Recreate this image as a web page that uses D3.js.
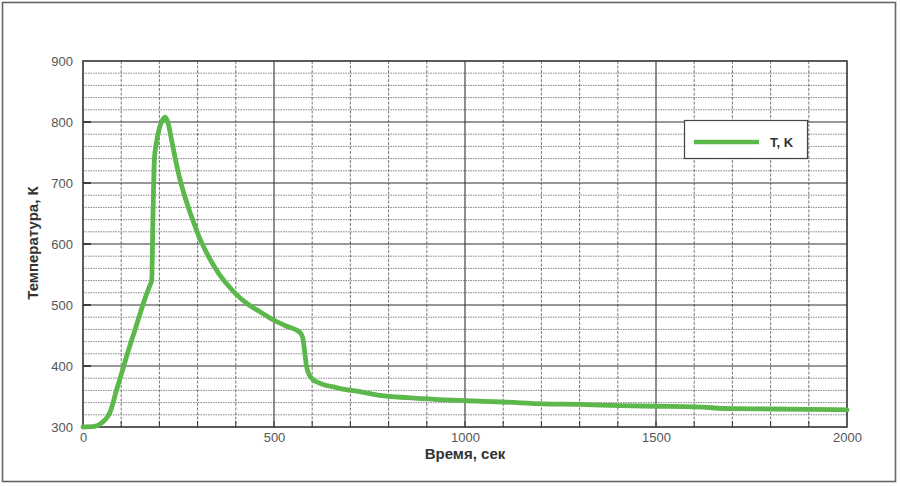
<!DOCTYPE html>
<html><head><meta charset="utf-8">
<script src="https://cdn.jsdelivr.net/npm/d3@7"></script>
<style>body{margin:0;background:#fff}svg{display:block}</style>
</head><body>
<svg id="c" width="900" height="486"></svg>
<script>
const times = [0,30,45,58,70,88,101,120,136,150,162,175,180,183,187,192,200,208,215,222,232,245,255,267,280,293,305,320,337,355,380,402,430,463,497,530,568,575,580,585,592,600,615,638,660,681,725,777,850,930,1005,1100,1204,1300,1406,1500,1600,1702,1800,1900,2000];
const temps = [300,301,305,312,323,361,388,428,459,487,510,532,541,640,740,765,790,803,808,800,770,730,703,677,652,630,610,590,570,552,532,517,502,489,476,466,455,447,425,400,386,379,373,368,365,362,358,352,348,345,343,341,338,337,335,334,333,330,329.5,329,328];
const xTicks = [0,500,1000,1500,2000];
const yTicks = [300,400,500,600,700,800,900];
const seriesName = "T, K";
const xTitle = "Время, сек";
const yTitle = "Температура, К";

const data = times.map((t,i)=>({t, v: temps[i]}));
const svg = d3.select("#c");
const L=83, R=847, T=61, B=427;
const x = d3.scaleLinear().domain([0,2000]).range([L,R]);
const y = d3.scaleLinear().domain([300,900]).range([B,T]);
const font = "'Liberation Sans', Arial, sans-serif";

svg.append("rect").attr("x",2.5).attr("y",2.5).attr("width",893).attr("height",479)
  .attr("fill","#fff").attr("stroke","#666").attr("stroke-width",1.6);

const g = svg.append("g");
g.selectAll(".hm").data(d3.range(300,901,20).filter(v=>v%100!==0)).join("line")
  .attr("x1",L).attr("x2",R).attr("y1",d=>y(d)).attr("y2",d=>y(d))
  .attr("stroke","#666").attr("stroke-width",0.8).attr("stroke-dasharray","1.5,1");
g.selectAll(".vm").data(d3.range(100,2000,100).filter(v=>v%500!==0)).join("line")
  .attr("y1",T).attr("y2",B).attr("x1",d=>x(d)).attr("x2",d=>x(d))
  .attr("stroke","#555").attr("stroke-width",0.8).attr("stroke-dasharray","3,1.5");
g.selectAll(".hM").data(yTicks.slice(1,-1)).join("line")
  .attr("x1",L).attr("x2",R).attr("y1",d=>y(d)).attr("y2",d=>y(d))
  .attr("stroke","#333").attr("stroke-width",1.1);
g.selectAll(".vM").data(xTicks.slice(1,-1)).join("line")
  .attr("y1",T).attr("y2",B).attr("x1",d=>x(d)).attr("x2",d=>x(d))
  .attr("stroke","#333").attr("stroke-width",1.1);

const ax = d3.axisBottom(x).tickValues(xTicks).tickFormat(d3.format("d")).tickSize(0).tickPadding(6);
const xa = svg.append("g").attr("transform",`translate(0,${B})`).call(ax);
xa.select(".domain").remove();
xa.selectAll("text").attr("font-family",font).attr("font-size",13).attr("fill","#555");
const ay = d3.axisLeft(y).tickValues(yTicks).tickFormat(d3.format("d")).tickSize(0).tickPadding(10);
const ya = svg.append("g").attr("transform",`translate(${L},0)`).call(ay);
ya.select(".domain").remove();
ya.selectAll("text").attr("font-family",font).attr("font-size",13).attr("fill","#555");

svg.selectAll(".bt").data(d3.range(100,2000,100)).join("line")
  .attr("x1",d=>x(d)).attr("x2",d=>x(d)).attr("y1",B).attr("y2",B-6)
  .attr("stroke","#333").attr("stroke-width",1);
svg.selectAll(".lt").data(yTicks.slice(1,-1)).join("line")
  .attr("x1",L).attr("x2",L+8).attr("y1",d=>y(d)).attr("y2",d=>y(d))
  .attr("stroke","#222").attr("stroke-width",1.5);

svg.append("rect").attr("x",L).attr("y",T).attr("width",R-L).attr("height",B-T)
  .attr("fill","none").attr("stroke","#333").attr("stroke-width",1.6);

svg.append("path").datum(data)
  .attr("d", d3.line().x(d=>x(d.t)).y(d=>y(d.v)).curve(d3.curveMonotoneX))
  .attr("fill","none").attr("stroke","#5cb84c").attr("stroke-width",4.8)
  .attr("stroke-linejoin","round").attr("stroke-linecap","round");

svg.append("text").attr("x",(L+R)/2).attr("y",459).attr("text-anchor","middle")
  .attr("font-family",font).attr("font-weight","bold").attr("font-size",15).attr("fill","#333").text(xTitle);
svg.append("text").attr("transform","translate(38,243) rotate(-90)").attr("text-anchor","middle")
  .attr("font-family",font).attr("font-weight","bold").attr("font-size",15).attr("fill","#333").text(yTitle);

const lg = svg.append("g");
lg.append("rect").attr("x",684.5).attr("y",120.5).attr("width",123).attr("height",38)
  .attr("fill","#fff").attr("stroke","#444").attr("stroke-width",1.2);
lg.append("line").attr("x1",694).attr("x2",759).attr("y1",142).attr("y2",142)
  .attr("stroke","#5cb84c").attr("stroke-width",4.5);
lg.append("text").attr("x",770).attr("y",147).attr("font-family",font).attr("font-weight","bold")
  .attr("font-size",13).attr("fill","#333").text(seriesName);
</script>
</body></html>
